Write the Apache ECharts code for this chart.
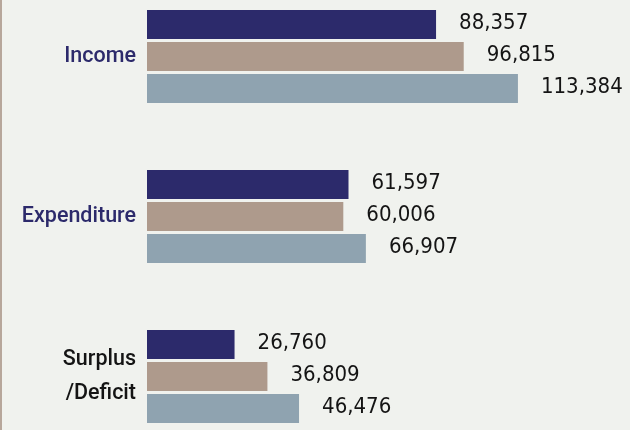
<!DOCTYPE html>
<html>
<head>
<meta charset="utf-8">
<script src="https://cdn.jsdelivr.net/npm/echarts@6/dist/echarts.min.js"></script>
<style>
  html, body { margin:0; padding:0; background:#f0f2ee; }
  #chart { width:630px; height:430px; }
</style>
</head>
<body>
<div id="chart"></div>
<script>
/* Horizontal grouped bars: Income / Expenditure / Surplus-Deficit, three periods each */
var categories = ["Income", "Expenditure", "Surplus\n/Deficit"];
var seriesNames = ["Period 1", "Period 2", "Period 3"];
var period1 = [88357, 61597, 26760];
var period2 = [96815, 60006, 36809];
var period3 = [113384, 66907, 46476];

var COLORS = {
  bg: "#f0f2ee",
  s1: "#2c2a6b",
  s2: "#ae9a8c",
  s3: "#8fa3b0",
  navy: "#2c2a6b",
  ink: "#141414",
  rule: "#b7a79b"
};
var catColors = [COLORS.navy, COLORS.navy, COLORS.ink];

function fmt(v){ return (+v).toLocaleString("en-US"); }

function barSeries(name, data, color){
  return {
    type:"bar", name:name, data:data,
    barWidth:29, barGap:"10.3%",
    itemStyle:{ color:color },
    emphasis:{ disabled:true },
    label:{ show:true, position:"right", distance:23,
      color:COLORS.ink, fontFamily:"'DejaVu Sans Condensed', 'DejaVu Sans', sans-serif",
      fontSize:22, fontWeight:400, offset:[0,-1],
      formatter:function(p){ return fmt(p.value); } }
  };
}

var ch = echarts.init(document.getElementById("chart"), null, { renderer:"canvas" });
ch.setOption({
  animation:false,
  backgroundColor:COLORS.bg,
  grid:{ left:147, right:25, top:56.5, bottom:53.5, containLabel:false },
  xAxis:{ type:"value", min:0, max:140000, show:false },
  yAxis:{
    type:"category", data:categories, inverse:true, boundaryGap:false,
    axisLine:{ show:false }, axisTick:{ show:false }, splitLine:{ show:false },
    axisLabel:{ margin:11, fontFamily:"Roboto", fontSize:21.5, fontWeight:500,
      lineHeight:34, align:"right",
      color:function(v, i){ return catColors[i]; } }
  },
  graphic:[{ type:"rect", left:0, top:0, shape:{ width:2, height:430 },
    style:{ fill:COLORS.rule }, silent:true }],
  series:[
    barSeries(seriesNames[0], period1, COLORS.s1),
    barSeries(seriesNames[1], period2, COLORS.s2),
    barSeries(seriesNames[2], period3, COLORS.s3)
  ]
});
</script>
</body>
</html>
